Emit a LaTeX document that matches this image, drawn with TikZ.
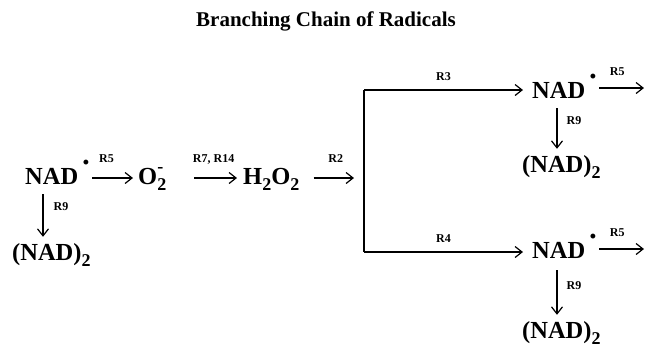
\documentclass[tikz,border=0pt]{standalone}
\usepackage{fontspec}
\setmainfont{Liberation Serif}
\usetikzlibrary{arrows.meta,calc}
\newcommand\chemsub[1]{\raisebox{-6.5pt}{\fontsize{18}{18}\selectfont #1}}
\newcommand\radNAD{NAD\hspace{4.5pt}\raisebox{16pt}{\fontsize{18}{18}\selectfont •}}
\begin{document}
\begin{tikzpicture}[x=1pt,y=-1pt,
  chem/.style={inner sep=0pt, anchor=base west, font=\fontsize{24.5}{24.5}\selectfont\bfseries},
  lbl/.style={inner sep=0pt, font=\fontsize{12}{12}\selectfont\bfseries},
  arr/.style={line width=1.3pt, -{Straight Barb[length=7pt,width=11pt,line width=1.2pt]}},
  ln/.style={line width=1.3pt}]
\useasboundingbox (0,0) rectangle (654,349);
\node[inner sep=0pt, anchor=base, font=\fontsize{21}{21}\selectfont\bfseries] (title) at (326,26) {Branching Chain of Radicals};

% main row
\coordinate (row) at (0,178);
\node[chem] (nad1) at (25,184) {\radNAD};
\node[chem] (o2) at (138,184) {O\rlap{\chemsub{2}}\raisebox{12pt}{\fontsize{18}{18}\selectfont -}};
\node[chem] (h2o2) at (243,184) {H\chemsub{2}O\chemsub{2}};
\node[chem] (dim1) at (12,260) {(NAD)\chemsub{2}};
\coordinate (r2end) at (354,178);
\coordinate (bt) at (364,90);
\coordinate (bb) at (364,252);

% upper branch
\node[chem] (nad2) at (532,98) {\radNAD};
\node[chem] (dim2) at (522,172) {(NAD)\chemsub{2}};
\coordinate (e2) at (644,88);
% lower branch
\node[chem] (nad3) at (532,258) {\radNAD};
\node[chem] (dim3) at (522,338) {(NAD)\chemsub{2}};
\coordinate (e3) at (644,249);

% connectors
\draw[arr] ([xshift=3pt]nad1.east |- row) -- node[lbl, anchor=base, pos=0.35, yshift=16pt] {R5} ([xshift=-5pt]o2.west |- row);
\draw[arr] ([xshift=31pt]o2.east |- row) -- node[lbl, anchor=base, pos=0.45, yshift=16pt] {R7, R14} ([xshift=-6pt]h2o2.west |- row);
\draw[arr] ([xshift=14pt]h2o2.east |- row) -- node[lbl, anchor=base, pos=0.55, yshift=16pt] {R2} (r2end);
\draw[ln] (bt) -- (bb);
\draw[arr] (bt) -- node[lbl, anchor=base, yshift=10pt] {R3} ([xshift=-9pt]bt -| nad2.west);
\draw[arr] (bb) -- node[lbl, anchor=base, yshift=10pt] {R4} ([xshift=-9pt]bb -| nad3.west);
\draw[arr] ([xshift=3pt]nad2.east |- e2) -- node[lbl, anchor=base, pos=0.4, yshift=13pt] {R5} (e2);
\draw[arr] ([xshift=3pt]nad3.east |- e3) -- node[lbl, anchor=base, pos=0.4, yshift=13pt] {R5} (e3);

\coordinate (d1) at ($(nad1.base west)+(18,0)$);
\coordinate (d2) at ($(nad2.base west)+(25,0)$);
\coordinate (d3) at ($(nad3.base west)+(25,0)$);
\draw[arr] ([yshift=-10pt]d1) -- node[lbl, anchor=west, pos=0.3, xshift=10pt] {R9} ([yshift=6pt]d1 |- dim1.north);
\draw[arr] ([yshift=-10pt]d2) -- node[lbl, anchor=west, pos=0.3, xshift=9pt] {R9} ([yshift=6pt]d2 |- dim2.north);
\draw[arr] ([yshift=-12pt]d3) -- node[lbl, anchor=west, pos=0.35, xshift=9pt] {R9} ([yshift=6pt]d3 |- dim3.north);
\end{tikzpicture}
\end{document}
